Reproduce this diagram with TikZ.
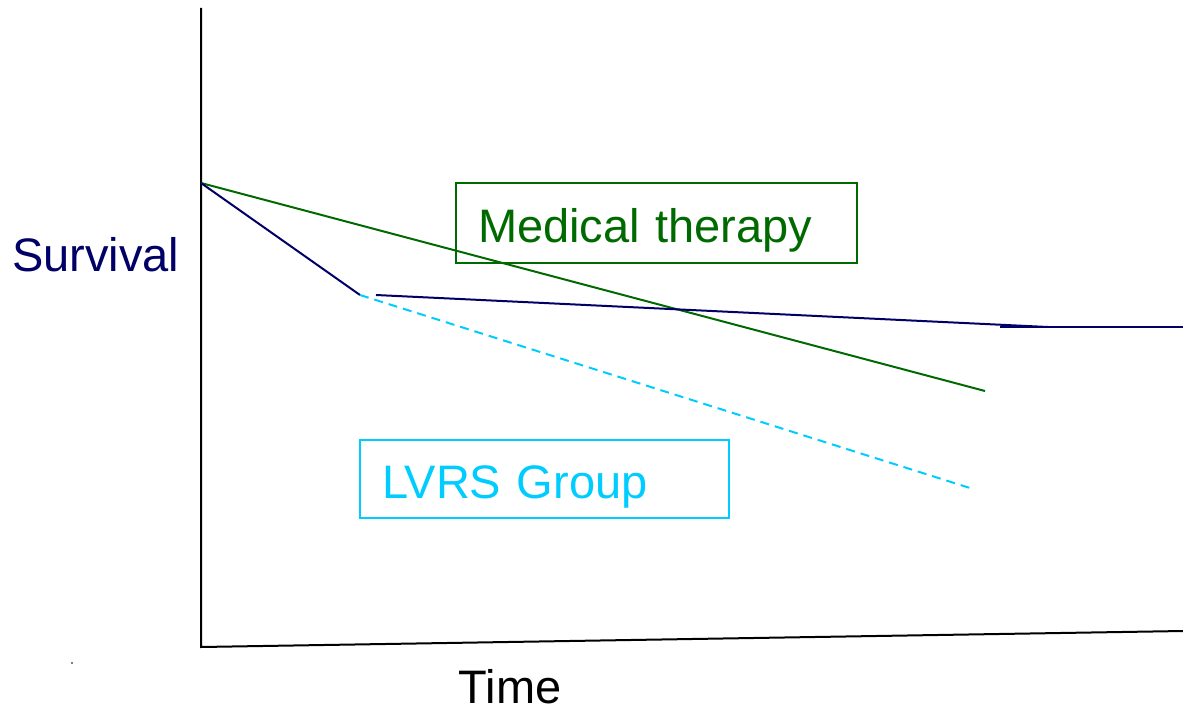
\documentclass[tikz,border=0pt]{standalone}
\usepackage{fontspec}
\setmainfont{Liberation Sans}
\definecolor{navy}{HTML}{000066}
\definecolor{medgreen}{HTML}{006A00}
\definecolor{lvcyan}{HTML}{00CCFF}
\begin{document}
\begin{tikzpicture}[x=1pt,y=-1pt,
  axis/.style={line width=2pt,black},
  curve/.style={line width=2pt},
  lbl/.style={font=\fontsize{47}{54}\selectfont,inner sep=0pt},
  legendbox/.style={draw,line width=1.5pt,font=\fontsize{47}{54}\selectfont,align=left,inner xsep=22pt,inner ysep=0pt,text height=48pt,text depth=10pt}
]
\useasboundingbox (0,0) rectangle (1183,709);
% axes
\coordinate (top) at (201,8);
\coordinate (origin) at (201,647);
\coordinate (xend) at (1183,631);
\draw[axis] (top) -- (origin) -- (xend);
\fill (72,663) circle (0.8);
% curves
\coordinate (start) at (201,183);
\coordinate (kink) at (360,295);
\coordinate (medend) at (985,391);
\coordinate (dashend) at (970,488);
\coordinate (lvA) at (376,295);
\coordinate (lvB) at (1048,327);
\coordinate (lvC) at (1000,327);
\coordinate (lvD) at (1183,327);
\draw[curve,medgreen] (start) -- (medend);
\draw[curve,navy] (start) -- (kink);
\draw[curve,lvcyan,dash pattern=on 9pt off 6pt] (kink) -- (dashend);
\draw[curve,navy] (lvA) -- (lvB);
\draw[curve,navy] (lvC) -- (lvD);
% labels
\node[lbl,navy,anchor=west] (surv) at (12,255) {Survival};
\node[lbl,black] (time) at (510,687) {Time};
\node[legendbox,draw=medgreen,text=medgreen,text width=357pt,minimum height=80pt] (med) at (656.5,223) {Medical therapy};
\node[legendbox,draw=lvcyan,text=lvcyan,text width=325pt,minimum height=78pt] (lvrs) at (544.5,479) {LVRS Group};
\end{tikzpicture}
\end{document}
